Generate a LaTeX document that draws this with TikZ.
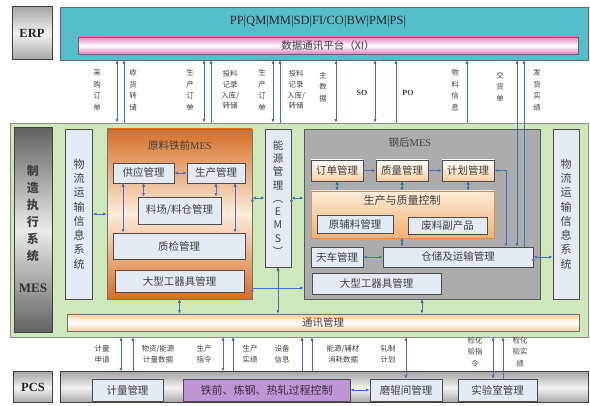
\documentclass[tikz,border=0pt]{standalone}
\usepackage{fontspec}
\setmainfont{Liberation Serif}
\newfontfamily\cjk{Noto Sans CJK SC}
\usetikzlibrary{arrows.meta}

\definecolor{erpteal}{RGB}{86,190,203}
\definecolor{xipink}{RGB}{228,128,188}
\definecolor{mesgreen}{RGB}{206,232,188}
\definecolor{ironorange}{RGB}{214,110,38}
\definecolor{ironlight}{RGB}{252,236,218}
\definecolor{ctrlorange}{RGB}{242,176,112}
\definecolor{modblue}{RGB}{228,234,244}
\definecolor{steelgrey}{RGB}{172,172,172}
\definecolor{linkblue}{RGB}{68,112,192}
\definecolor{procpurple}{RGB}{190,150,214}
\definecolor{commpeach}{RGB}{246,206,160}
\definecolor{txtgrey}{RGB}{64,64,64}

\tikzset{
  frame/.style={draw=black!60, line width=0.8pt, inner sep=0pt},
  module/.style={frame, draw=black!70, line width=0.9pt, fill=modblue, text=txtgrey, font=\cjk\fontsize{10.5}{12}\selectfont},
  steelmod/.style={module, top color=white, bottom color=commpeach},
  metal/.style={draw=black!75, line width=1pt, inner sep=0pt, top color=gray!70, bottom color=gray!70, middle color=gray!10, text=black!85, font=\bfseries\fontsize{12.5}{14}\selectfont},
  vtext/.style={align=center, font=\cjk\fontsize{11}{14.3}\selectfont},
  flowlbl/.style={align=center, inner sep=0pt, text=txtgrey, font=\cjk\fontsize{7.5}{11.5}\selectfont},
  title/.style={inner sep=0pt, text=black!75, font=\cjk\fontsize{10.5}{12}\selectfont},
  link/.style={draw=linkblue, line width=0.7pt}
}

\begin{document}
\begin{tikzpicture}[x=1pt,y=-1pt,>={Latex[length=3.5pt,width=3pt]}]
\useasboundingbox (0,0) rectangle (590,406);

\node[metal,minimum width=40,minimum height=53] (erp) at (32,33.5) {ERP};
\node[frame,fill=erpteal,minimum width=528,minimum height=53] (sap) at (324,33.5) {};
\node[inner sep=0pt,text=black!85,font=\fontsize{12.5}{14}\selectfont] (saptext) at (318,22) {PP|QM|MM|SD|FI/CO|BW|PM|PS|};
\node[frame,top color=xipink,bottom color=xipink,middle color=white,minimum width=500,minimum height=17,text=txtgrey,font=\cjk\fontsize{10.5}{12}\selectfont] (xi) at (328,45.5) {数据通讯平台（XI）};

\node[frame,draw=black!45,fill=mesgreen,minimum width=578,minimum height=214] (mes) at (299,230) {};
\node[metal,top color=black!62,bottom color=black!62,middle color=black!8,minimum width=38,minimum height=205] (meslbl) at (33,230.5) {};
\node[align=center,text=black!75,font=\cjk\bfseries\fontsize{12}{17}\selectfont] (mescn) at (33,214) {制\\造\\执\\行\\系\\统};
\node[text=black!80,font=\bfseries\fontsize{13}{14}\selectfont] (mesen) at (33,288) {MES};

\node[module,vtext,minimum width=27,minimum height=170] (loglf) at (79,214) {物\\流\\运\\输\\信\\息\\系\\统};

\node[frame,draw=black!55,top color=ironorange,bottom color=ironorange,middle color=ironlight,minimum width=145,minimum height=170] (iron) at (179.5,214) {};
\node[title] (irontitle) at (180,145) {原料铁前{\rmfamily MES}};
\node[module,minimum width=61,minimum height=20] (supply) at (143.5,173) {供应管理};
\node[module,minimum width=58,minimum height=20] (prod) at (216,173) {生产管理};
\node[module,minimum width=83,minimum height=27] (yard) at (179.5,210.5) {料场/料仓管理};
\node[module,minimum width=132,minimum height=26] (qc) at (179,246) {质检管理};
\node[module,minimum width=129,minimum height=22] (tools1) at (179.5,281) {大型工器具管理};

\node[module,align=center,font=\cjk\fontsize{10.5}{13.25}\selectfont,minimum width=26,minimum height=138] (ems) at (278,198) {能\\源\\管\\理\\︵\\E\\M\\S\\︶};

\node[frame,draw=black!65,fill=steelgrey,minimum width=236,minimum height=170] (steel) at (422,214) {};
\node[title] (steeltitle) at (410,143) {钢后{\rmfamily MES}};
\node[steelmod,minimum width=52,minimum height=21] (order) at (337,170.5) {订单管理};
\node[steelmod,minimum width=52,minimum height=21] (qual) at (402,170.5) {质量管理};
\node[steelmod,minimum width=52,minimum height=21] (plan) at (468,170.5) {计划管理};
\node[frame,draw=ironorange!80,top color=ironlight,bottom color=ctrlorange,minimum width=183,minimum height=47] (ctrl) at (402.5,214.5) {};
\node[title,font=\cjk\fontsize{11}{12}\selectfont] (ctrltitle) at (402,200) {生产与质量控制};
\node[module,minimum width=76,minimum height=18] (raw) at (355,224) {原辅料管理};
\node[module,minimum width=79,minimum height=17] (scrap) at (447.5,225.5) {废料副产品};
\node[module,minimum width=52,minimum height=20] (crane) at (337,257) {天车管理};
\node[module,minimum width=150,minimum height=20] (store) at (458,257) {仓储及运输管理};
\node[module,minimum width=129,minimum height=21] (tools2) at (376.5,283.5) {大型工器具管理};

\node[module,vtext,minimum width=26,minimum height=170] (logrt) at (566,214) {物\\流\\运\\输\\信\\息\\系\\统};

\node[frame,draw=black!55,top color=commpeach,bottom color=commpeach,middle color=white,minimum width=512,minimum height=17,text=txtgrey,font=\cjk\fontsize{10.5}{12}\selectfont] (comm) at (323,322.5) {通讯管理};

\node[metal,minimum width=39,minimum height=31] (pcs) at (33,387.5) {PCS};
\node[metal,minimum width=528,minimum height=31] (pcsbar) at (324,387.5) {};
\node[module,minimum width=71,minimum height=22] (meter) at (127.5,390) {计量管理};
\node[module,fill=procpurple,text=black!70!procpurple,font=\cjk\fontsize{11}{12}\selectfont,minimum width=167,minimum height=22] (proc) at (266.5,390) {铁前、炼钢、热轧过程控制};
\node[module,minimum width=72,minimum height=22] (roll) at (406,390) {磨辊间管理};
\node[module,minimum width=79,minimum height=22] (lab) at (497.5,390) {实验室管理};

\coordinate (buy) at (117,0);
\coordinate (recv) at (124,0);
\coordinate (pord1) at (204,0);
\coordinate (feed1) at (211,0);
\coordinate (pord2) at (273,0);
\coordinate (feed2) at (280,0);
\coordinate (mdata) at (336,0);
\coordinate (so) at (375,0);
\coordinate (po) at (396,0);
\coordinate (matl) at (467,0);
\coordinate (dlv) at (517,0);
\coordinate (ship) at (524,0);

\path [link,->] (sap.south -| buy) edge (mes.north -| buy);
\path [link,<-] (sap.south -| recv) edge (mes.north -| recv);
\path [link,->] (sap.south -| pord1) edge (mes.north -| pord1);
\path [link,<-] (sap.south -| feed1) edge (mes.north -| feed1);
\path [link,->] (sap.south -| pord2) edge (mes.north -| pord2);
\path [link,<-] (sap.south -| feed2) edge (mes.north -| feed2);
\path [link,->] (sap.south -| mdata) edge (mes.north -| mdata);
\path [link,->] (sap.south -| so) edge (mes.north -| so);
\path [link,<-] (sap.south -| po) edge (mes.north -| po);
\path [link,<-] (sap.south -| matl) edge (mes.north -| matl);
\path [link,->] (sap.south -| dlv) edge (store.north -| dlv);
\path [link,<-] (sap.south -| ship) edge (store.north -| ship);

\node[flowlbl] (lbuy) at (97,90) {采\\购\\订\\单};
\node[flowlbl] (lrecv) at (133,90) {收\\货\\转\\储};
\node[flowlbl] (lpord1) at (190,90) {生\\产\\订\\单};
\node[flowlbl,font=\cjk\fontsize{7.5}{10.7}\selectfont] (lfeed1) at (230,90) {投料\\记录\\入库/\\转储};
\node[flowlbl] (lpord2) at (262,90) {生\\产\\订\\单};
\node[flowlbl,font=\cjk\fontsize{7.5}{10.7}\selectfont] (lfeed2) at (296,90) {投料\\记录\\入库/\\转储};
\node[flowlbl] (lmdata) at (323,87) {主\\数\\据};
\node[flowlbl,font=\bfseries\fontsize{8}{10}\selectfont] (lso) at (362,93) {SO};
\node[flowlbl,font=\bfseries\fontsize{8}{10}\selectfont] (lpo) at (408,93) {PO};
\node[flowlbl] (lmatl) at (455,90) {物\\料\\信\\息};
\node[flowlbl] (ldlv) at (500,87) {交\\货\\单};
\node[flowlbl] (lship) at (537,90) {发\\货\\实\\绩};

\coordinate (qcl) at (123,0);
\coordinate (qcr) at (235,0);
\coordinate (bus) at (0,288);
\coordinate (turn) at (506,0);

\path [link,<->] (loglf) edge (iron);
\path [link,<->] (supply) edge (prod);
\path [link,<->] (supply.south) edge (supply.south |- yard.north);
\path [link,<->] (prod.south) edge (prod.south |- yard.north);
\path [link,<->] (supply.south -| qcl) edge (qc.north -| qcl);
\path [link,<->] (prod.south -| qcr) edge (qc.north -| qcr);
\path [link,<->] (iron.east |- ems) edge (ems.west);
\path [link,<->] (ems.east) edge (steel.west |- ems);
\path [link,<->] (iron.south) edge (iron.south |- comm.north);
\path [link,<->] (ems.south) edge (ems.south |- comm.north);
\path [link,->] (iron.east |- bus) edge (steel.west |- bus);

\path [link,->] (order) edge (qual);
\path [link,->] (qual) edge (plan);
\path [link,<->] (order.south) edge (order.south |- ctrl.north);
\path [link,<->] (qual.south) edge (qual.south |- ctrl.north);
\path [link,<->] (plan.south) edge (plan.south |- ctrl.north);
\path [link,<->] (ctrl.south -| qual) edge (store.north -| qual);
\path [link,<->] (crane) edge (store);
\path [link,<->] (store.east) edge (logrt.west |- store);
\draw [link,<->] (plan.east) -| (store.north -| turn);
\path [link,<->] (steel.south) edge (steel.south |- comm.north);

\coordinate (req) at (121,0);
\coordinate (mdat) at (133,0);
\coordinate (cmd) at (223,0);
\coordinate (res) at (233,0);
\coordinate (eqp) at (302,0);
\coordinate (cons) at (312,0);
\coordinate (rollp) at (406,0);
\coordinate (labc) at (493,0);
\coordinate (labr) at (503,0);

\path [link,->] (mes.south -| req) edge (pcsbar.north -| req);
\path [link,<-] (mes.south -| mdat) edge (pcsbar.north -| mdat);
\path [link,->] (mes.south -| cmd) edge (pcsbar.north -| cmd);
\path [link,<-] (mes.south -| res) edge (pcsbar.north -| res);
\path [link,<-] (mes.south -| eqp) edge (pcsbar.north -| eqp);
\path [link,<-] (mes.south -| cons) edge (pcsbar.north -| cons);
\path [link,->] (mes.south -| rollp) edge (roll.north -| rollp);
\path [link,->] (mes.south -| labc) edge (lab.north -| labc);
\path [link,<-] (mes.south -| labr) edge (lab.north -| labr);
\path [link,<->] (proc) edge (roll);

\node[flowlbl] (lreq) at (102,354) {计量\\申请};
\node[flowlbl] (lmdat) at (158,354) {物资/能源\\计量数据};
\node[flowlbl] (lcmd) at (204,354) {生产\\指令};
\node[flowlbl] (lres) at (250,354) {生产\\实绩};
\node[flowlbl] (leqp) at (282,354) {设备\\信息};
\node[flowlbl] (lcons) at (343,354) {能源/辅材\\消耗数据};
\node[flowlbl] (lplan) at (388,354) {轧制\\计划};
\node[flowlbl] (llabc) at (475,352) {检化\\验指\\令};
\node[flowlbl] (llabr) at (520,352) {检化\\验实\\绩};
\end{tikzpicture}
\end{document}
